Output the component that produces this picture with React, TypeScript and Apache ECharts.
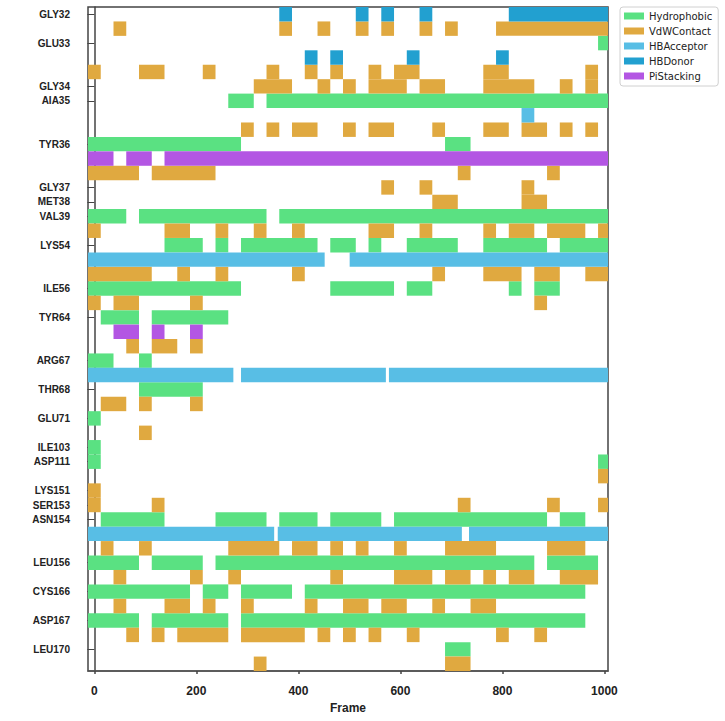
import React, { useEffect, useRef } from "react";
import * as echarts from "echarts";

// Each row is one residue/interaction track; frames are sampled every 25 frames.
const BIN = 25;

const rowLabels = [
  "GLY32", "", "GLU33", "", "", "GLY34", "AIA35", "", "", "TYR36", "", "",
  "GLY37", "MET38", "VAL39", "", "LYS54", "", "", "ILE56", "", "TYR64", "", "",
  "ARG67", "", "THR68", "", "GLU71", "", "ILE103", "ASP111", "", "LYS151", "SER153",
  "ASN154", "", "", "LEU156", "", "CYS166", "", "ASP167", "", "LEU170", "",
];

const H = "Hydrophobic";
const V = "VdWContact";
const A = "HBAcceptor";
const D = "HBDonor";
const P = "PiStacking";

const rowKinds = [
  D, V, H, D, V, V, H, A, V, H, P, V,
  V, V, H, V, H, A, V, H, V, H, P, V,
  H, A, H, V, H, V, H, H, V, V, V,
  H, A, V, H, V, H, V, H, V, H, V,
];

// [first frame, last frame] of each contiguous run of contact, per row
const rowSegments: number[][][] = [
  [[375, 375], [525, 525], [575, 575], [650, 650], [825, 1000]],
  [[50, 50], [375, 375], [450, 450], [525, 525], [575, 575], [650, 650], [700, 700], [800, 1000]],
  [[1000, 1000]],
  [[425, 425], [475, 475], [625, 625], [800, 800]],
  [[0, 0], [100, 125], [225, 225], [350, 350], [425, 425], [475, 475], [550, 550], [600, 625], [775, 800], [975, 975]],
  [[325, 375], [450, 450], [500, 500], [550, 600], [650, 675], [775, 850], [925, 925], [975, 975]],
  [[275, 300], [350, 1000]],
  [[850, 850]],
  [[300, 300], [350, 350], [400, 425], [500, 500], [550, 575], [675, 675], [775, 800], [850, 875], [925, 925], [975, 975]],
  [[0, 275], [700, 725]],
  [[0, 25], [75, 100], [150, 1000]],
  [[0, 75], [125, 225], [725, 725], [900, 900]],
  [[575, 575], [650, 650], [850, 850]],
  [[675, 700], [850, 875]],
  [[0, 50], [100, 325], [375, 1000]],
  [[0, 0], [150, 175], [250, 250], [325, 325], [400, 400], [550, 575], [650, 650], [775, 775], [825, 850], [900, 950], [1000, 1000]],
  [[150, 200], [250, 250], [300, 425], [475, 500], [550, 550], [625, 700], [775, 875], [925, 1000]],
  [[0, 439], [513, 1000]],
  [[0, 100], [175, 175], [250, 250], [400, 400], [675, 675], [775, 825], [875, 900], [975, 1000]],
  [[0, 275], [475, 575], [625, 650], [825, 825], [875, 900]],
  [[0, 0], [50, 75], [200, 200], [875, 875]],
  [[25, 75], [125, 250]],
  [[50, 75], [125, 125], [200, 200]],
  [[75, 75], [125, 150], [200, 200]],
  [[0, 25], [100, 100]],
  [[0, 260], [300, 559], [590, 1000]],
  [[100, 200]],
  [[25, 50], [100, 100], [200, 200]],
  [[0, 0]],
  [[100, 100]],
  [[0, 0]],
  [[0, 0], [1000, 1000]],
  [[1000, 1000]],
  [[0, 0]],
  [[0, 0], [125, 125], [725, 725], [900, 900], [1000, 1000]],
  [[25, 125], [250, 325], [375, 425], [475, 550], [600, 875], [925, 950]],
  [[0, 340], [372, 708], [747, 1000]],
  [[25, 25], [100, 100], [275, 350], [400, 425], [475, 475], [525, 525], [600, 600], [700, 775], [900, 950]],
  [[0, 75], [125, 200], [250, 850], [900, 975]],
  [[50, 50], [200, 200], [275, 275], [475, 475], [600, 650], [700, 725], [775, 775], [825, 850], [925, 975]],
  [[0, 175], [225, 250], [300, 375], [425, 950]],
  [[50, 50], [150, 175], [225, 225], [300, 300], [425, 425], [500, 525], [575, 600], [675, 675], [750, 775]],
  [[0, 75], [125, 250], [300, 950]],
  [[75, 75], [125, 125], [175, 250], [300, 400], [450, 450], [500, 500], [550, 550], [625, 625], [800, 800], [875, 875]],
  [[700, 725]],
  [[325, 325], [700, 725]],
];

const kinds = [H, V, A, D, P];
const kindColors: Record<string, string> = {
  [H]: "#5ae182",
  [V]: "#e0a940",
  [A]: "#58bee5",
  [D]: "#22a0d0",
  [P]: "#b356e3",
};

const frameTicks = [0, 200, 400, 600, 800, 1000];

function buildOption(): echarts.EChartsOption {
  const series = kinds.map((kind) => {
    const data: number[][] = [];
    rowKinds.forEach((k, row) => {
      if (k !== kind) return;
      rowSegments[row].forEach(([a, b]) => data.push([row, a, b]));
    });
    const color = kindColors[kind];
    return {
      type: "custom" as const,
      name: kind,
      itemStyle: { color },
      encode: { x: [1, 2], y: 0 },
      data,
      renderItem: (params: any, api: any) => {
        const row = api.value(0);
        const p0 = api.coord([api.value(1) - BIN / 2, row]);
        const p1 = api.coord([api.value(2) + BIN / 2, row]);
        const band = api.size([0, 1])[1];
        const cs = params.coordSys;
        const shape = echarts.graphic.clipRectByRect(
          { x: p0[0], y: p0[1] - band / 2, width: p1[0] - p0[0], height: band },
          { x: cs.x, y: cs.y, width: cs.width, height: cs.height }
        );
        if (!shape) return null;
        return { type: "rect", shape, style: { fill: color } };
      },
    };
  });

  return {
    animation: false,
    backgroundColor: "#ffffff",
    grid: {
      left: 88,
      right: 117,
      top: 7,
      bottom: 50,
      show: true,
      borderColor: "#444",
      borderWidth: 1.5,
      backgroundColor: "transparent",
    },
    legend: {
      orient: "vertical",
      left: 620,
      top: 7,
      icon: "rect",
      itemWidth: 20,
      itemHeight: 7,
      itemGap: 3,
      padding: [3, 6, 4, 4],
      borderColor: "#d0d0d0",
      borderWidth: 1,
      borderRadius: 3,
      selectedMode: false,
      data: kinds,
      textStyle: {
        fontFamily: "DejaVu Sans",
        fontSize: 10,
        color: "#222",
        lineHeight: 12,
      },
    },
    xAxis: {
      type: "value",
      min: -BIN / 2,
      max: 1007,
      name: "Frame",
      nameLocation: "middle",
      nameGap: 30,
      nameTextStyle: {
        fontFamily: "Liberation Sans",
        fontWeight: "bold",
        fontSize: 12,
        color: "#222",
      },
      splitLine: { show: false },
      axisLine: { show: true, lineStyle: { color: "#555", width: 1.5 } },
      axisTick: {
        show: true,
        length: 3,
        customValues: frameTicks,
        lineStyle: { color: "#444", width: 1.5 },
      },
      axisLabel: {
        customValues: frameTicks,
        margin: 14,
        formatter: (v: number) => String(v),
        fontFamily: "Liberation Sans",
        fontWeight: "bold",
        fontSize: 12,
        color: "#222",
      },
    },
    yAxis: {
      type: "category",
      inverse: true,
      data: rowLabels.map((_, i) => `row${i}`),
      splitLine: { show: false },
      axisLine: { show: true, lineStyle: { color: "#444", width: 1.5 } },
      axisTick: {
        show: true,
        alignWithLabel: true,
        length: 7,
        interval: (idx: number) => rowLabels[idx] !== "",
        lineStyle: { color: "#444", width: 1 },
      },
      axisLabel: {
        interval: 0,
        margin: 18,
        formatter: (_v: string, idx: number) => rowLabels[idx],
        fontFamily: "Liberation Sans",
        fontWeight: "bold",
        fontSize: 10,
        color: "#222",
      },
    },
    series: series as any,
  };
}

export default function App() {
  const ref = useRef<HTMLDivElement>(null);

  useEffect(() => {
    if (!ref.current) return;
    const chart = echarts.init(ref.current, undefined, { renderer: "svg" });
    chart.setOption(buildOption());
    return () => chart.dispose();
  }, []);

  return (
    <div
      ref={ref}
      style={{
        position: "absolute",
        left: 0,
        top: 0,
        width: 725,
        height: 721,
        background: "#fff",
      }}
    />
  );
}
